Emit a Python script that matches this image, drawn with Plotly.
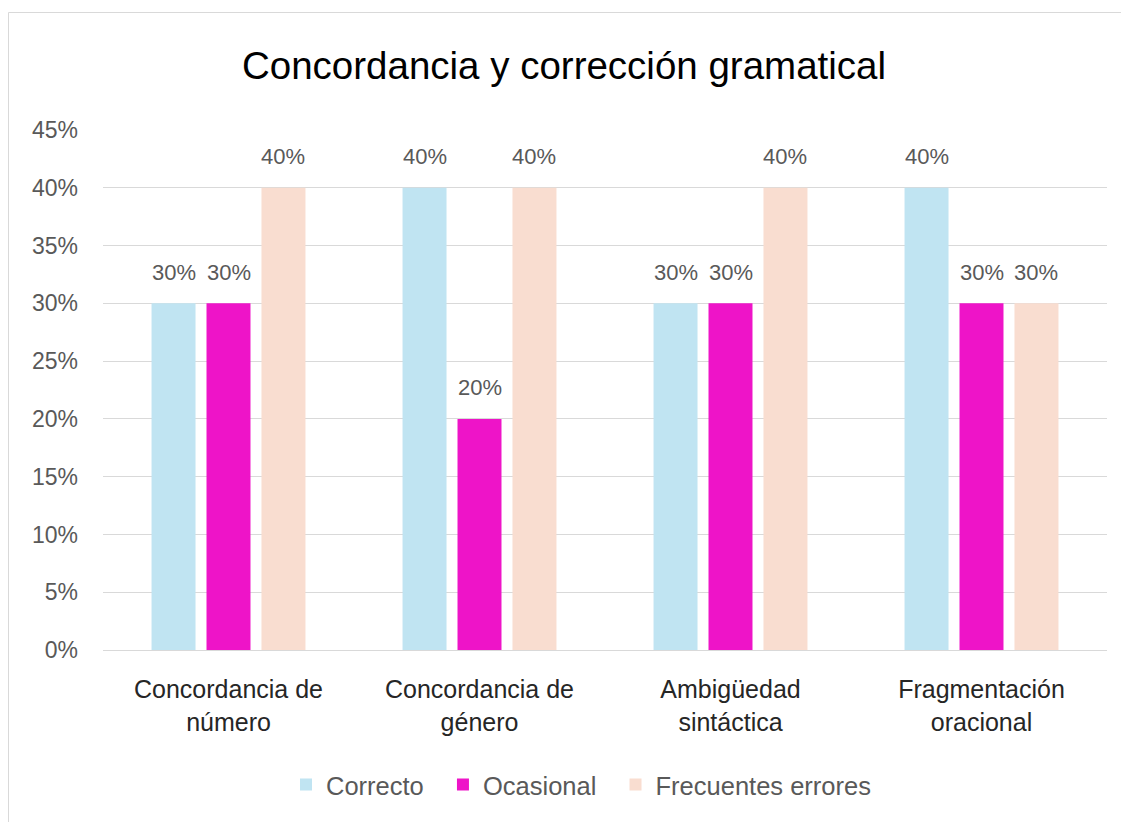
import plotly.graph_objects as go

categories = ["Concordancia de<br>número", "Concordancia de<br>género", "Ambigüedad<br>sintáctica", "Fragmentación<br>oracional"]
correcto = [0.30, 0.40, 0.30, 0.40]
ocasional = [0.30, 0.20, 0.30, 0.30]
frecuentes = [0.40, 0.40, 0.40, 0.30]
series_names = ["Correcto", "Ocasional", "Frecuentes errores"]
colors = ["#C0E4F2", "#EE14C8", "#F9DDD0"]
tick_vals = [0, 0.05, 0.10, 0.15, 0.20, 0.25, 0.30, 0.35, 0.40, 0.45]

# page offset (html body margin) is 8px
OFF = 8
W, H = 1121, 814
L, R, T, B = 103 - OFF, 22, 130 - OFF, 172
pw, ph = W - L - R, H - T - B
FONT = "Liberation Sans, Arial, sans-serif"
BARGAP = 0.343
slot_px = pw / len(categories) * (1 - BARGAP) / 3

fig = go.Figure()
all_series = [correcto, ocasional, frecuentes]
for i, (name, vals, col) in enumerate(zip(series_names, all_series, colors)):
    fig.add_trace(go.Bar(
        x=categories, y=vals, name=name + "\u00a0\u00a0" if i < 2 else name,
        marker=dict(color=col, line=dict(width=0)),
    ))
    for cat, v in zip(categories, vals):
        fig.add_annotation(x=cat, y=v, text=f"{round(v*100)}%", showarrow=False,
                           xshift=(i - 1) * slot_px, yshift=31, yanchor="middle",
                           font=dict(family=FONT, size=22, color="#595959"))

fig.update_layout(
    width=W, height=H,
    margin=dict(l=L, r=R, t=T, b=B),
    paper_bgcolor="white", plot_bgcolor="white",
    barmode="group", bargap=BARGAP, bargroupgap=0.2,
    title=dict(text="Concordancia y corrección gramatical", x=(564 - OFF)/W, xanchor="center",
               y=1 - (66 - OFF)/H, yanchor="middle",
               font=dict(family=FONT, size=38.5, color="#000000")),
    legend=dict(orientation="h", x=(581 - 103)/pw, xanchor="center", y=(650 - 785)/ph, yanchor="middle",
                font=dict(family=FONT, size=25.5, color="#595959"),
                traceorder="normal", itemwidth=30),
    showlegend=True,
    font=dict(family=FONT, color="#595959"),
)
fig.update_yaxes(range=[0, 0.45], tickvals=tick_vals, tickformat=".0%", showgrid=True,
                 gridcolor="#D9D9D9", gridwidth=1, zeroline=False, showline=False,
                 tickfont=dict(family=FONT, size=23, color="#595959"), ticklen=0,
                 ticks="", ticklabelstandoff=24)
fig.update_xaxes(showline=True, linecolor="#D9D9D9", linewidth=1, ticks="",
                 ticklabelstandoff=17,
                 tickfont=dict(family=FONT, size=25, color="#262626"))

fig.add_shape(type="rect", xref="paper", yref="paper",
              x0=(0.5 - L)/pw, x1=(W + 20 - L)/pw, y0=(H - B - (H + 20))/ph, y1=(H - B - 4.5)/ph,
              line=dict(color="#D9D9D9", width=1), fillcolor="rgba(0,0,0,0)", layer="below")

fig.write_html("out.html")
